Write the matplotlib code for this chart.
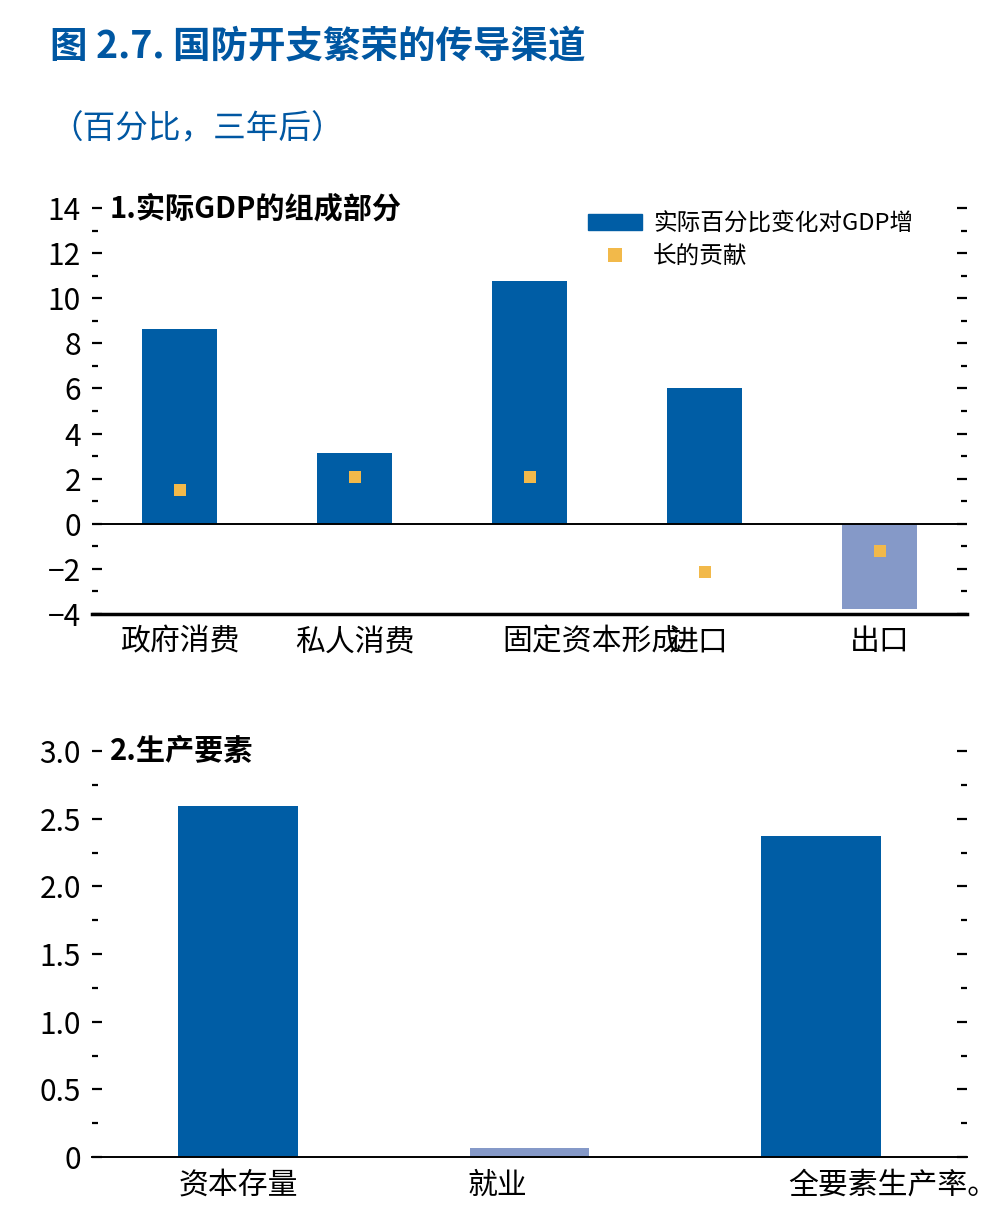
import matplotlib
matplotlib.use('Agg')
import matplotlib.pyplot as plt
import matplotlib.transforms as mtransforms
from matplotlib.ticker import MultipleLocator
from matplotlib.lines import Line2D
from matplotlib.patches import Patch

plt.rcParams['font.family'] = ['Noto Sans CJK SC', 'DejaVu Sans']

# Panel 1: components of real GDP
comp_labels = ['政府消费', '私人消费', '固定资本形成', '进口', '出口']
comp_change = [8.65, 3.15, 10.75, 6.0, -3.8]
comp_contrib = [1.5, 2.08, 2.08, -2.13, -1.2]

# Panel 2: factors of production
factor_labels = ['资本存量', '就业', '全要素生产率。']
factor_values = [2.59, 0.07, 2.37]

dark_blue = '#005da5'
light_blue = '#8599c8'
gold = '#f2b94a'
title_blue = '#0057a2'

fig = plt.figure(figsize=(9.98, 12.25), dpi=100)

fig.text(50 / 998, 1 - 47 / 1225, '图 2.7. 国防开支繁荣的传导渠道', fontsize=27,
         fontweight='bold', color=title_blue, va='center', ha='left')
fig.text(50 / 998, 1 - 130 / 1225, '（百分比，三年后）', fontsize=23.5,
         fontweight='light', color=title_blue, va='center', ha='left')


def style_axis(ax):
    for s in ['top', 'left', 'right']:
        ax.spines[s].set_visible(False)
    ax.tick_params(axis='y', which='major', direction='in', length=7.5, width=1.6,
                   left=True, right=True, labelsize=21.5, pad=8)
    ax.tick_params(axis='y', which='minor', direction='in', length=4, width=1.6,
                   left=True, right=True)
    ax.tick_params(axis='x', length=0, labelsize=21.5, pad=9)
    for lab in ax.get_yticklabels() + ax.get_xticklabels():
        lab.set_fontweight('light')


def shift_label(ax, idx, dx_px):
    lab = ax.get_xticklabels()[idx]
    offset = mtransforms.ScaledTranslation(dx_px / 100, 0, fig.dpi_scale_trans)
    lab.set_transform(lab.get_transform() + offset)


# ---- panel 1
ax1 = fig.add_axes([92 / 998, 1 - 614 / 1225, 875 / 998, 406 / 1225])
x1 = range(len(comp_labels))
cols1 = [dark_blue if v >= 0 else light_blue for v in comp_change]
ax1.bar(x1, comp_change, width=0.43, color=cols1, zorder=2)
ax1.scatter(x1, comp_contrib, marker='s', s=80, color=gold, zorder=3, linewidths=0)
ax1.axhline(0, color='black', lw=1.4, zorder=4)
ax1.set_xlim(-0.5, 4.5)
ax1.set_ylim(-4, 14)
ax1.yaxis.set_major_locator(MultipleLocator(2))
ax1.yaxis.set_minor_locator(MultipleLocator(1))
ax1.set_xticks(list(x1))
ax1.set_xticklabels(comp_labels)
ax1.spines['bottom'].set_linewidth(2.5)
style_axis(ax1)
# the reference draws this long label pushed right, running into the next one
shift_label(ax1, 2, 62)
shift_label(ax1, 3, -6)
ax1.text(18 / 875, 1.0, '1.实际GDP的组成部分', transform=ax1.transAxes, fontsize=21,
         fontweight='bold', va='center', ha='left')

handles = [Patch(color=dark_blue), Line2D([], [], marker='s', ls='none', color=gold,
                                          markersize=9.5, markeredgewidth=0)]
leg = ax1.legend(handles, ['实际百分比变化对GDP增', '长的贡献'], loc='upper left',
                 bbox_to_anchor=(0.567, 0.99), frameon=False, fontsize=17,
                 handlelength=2.3, handleheight=0.7, handletextpad=0.45,
                 labelspacing=0.45, borderpad=0, borderaxespad=0)
for t in leg.get_texts():
    t.set_fontweight('light')

# ---- panel 2
ax2 = fig.add_axes([92 / 998, 1 - 1157 / 1225, 875 / 998, 406 / 1225])
x2 = range(len(factor_labels))
cols2 = [dark_blue, light_blue, dark_blue]
ax2.bar(x2, factor_values, width=0.41, color=cols2, zorder=2)
ax2.set_xlim(-0.5, 2.5)
ax2.set_ylim(0, 3.0)
ax2.yaxis.set_major_locator(MultipleLocator(0.5))
ax2.yaxis.set_minor_locator(MultipleLocator(0.25))
ax2.set_yticks([0, 0.5, 1.0, 1.5, 2.0, 2.5, 3.0])
ax2.set_yticklabels(['0', '0.5', '1.0', '1.5', '2.0', '2.5', '3.0'])
ax2.set_xticks(list(x2))
ax2.set_xticklabels(factor_labels)
ax2.spines['bottom'].set_linewidth(1.4)
style_axis(ax2)
shift_label(ax2, 1, -32)
shift_label(ax2, 2, 72)
ax2.text(18 / 875, 1.0, '2.生产要素', transform=ax2.transAxes, fontsize=21,
         fontweight='bold', va='center', ha='left')

fig.savefig('out.png', dpi=100)
